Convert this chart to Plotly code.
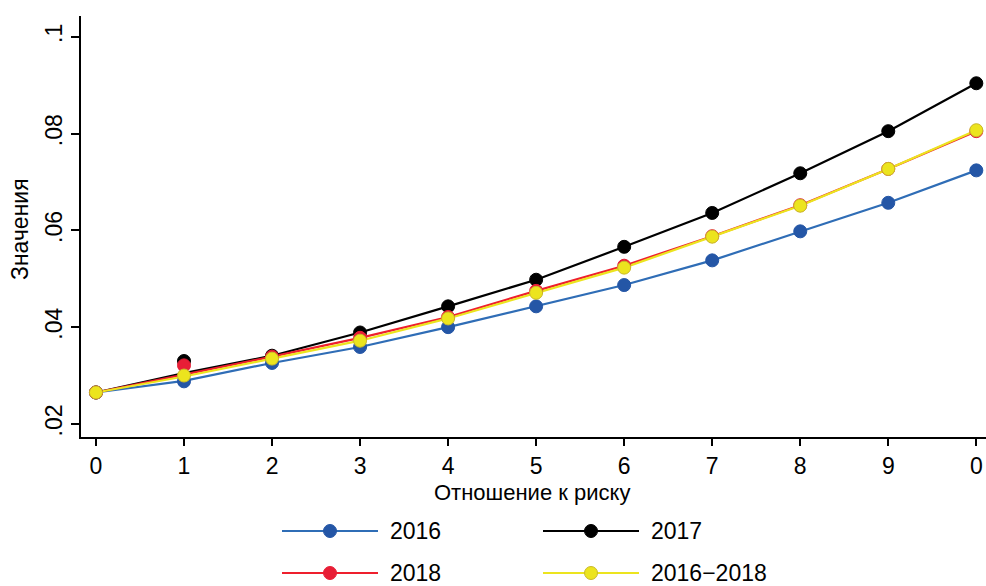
import plotly.graph_objects as go

# ---- data ----
x_vals = [0, 1, 2, 3, 4, 5, 6, 7, 8, 9, 10]
x_ticktext = ["0", "1", "2", "3", "4", "5", "6", "7", "8", "9", "0"]
y_tickvals = [0.02, 0.04, 0.06, 0.08, 0.10]
y_ticktext = [".02", ".04", ".06", ".08", ".1"]
x_title = "Отношение к риску"
y_title = "Значения"

series_names = ["2016", "2017", "2018", "2016\u22122018"]

# marker (point) values
pts_2016 = [0.0265, 0.0288, 0.0326, 0.0359, 0.0400, 0.0443, 0.0487, 0.0538, 0.0598, 0.0657, 0.0724]
pts_2017 = [0.0265, 0.0330, 0.0341, 0.0389, 0.0443, 0.0498, 0.0566, 0.0636, 0.0718, 0.0805, 0.0904]
pts_2018 = [0.0265, 0.0321, 0.0339, 0.0378, 0.0421, 0.0475, 0.0527, 0.0588, 0.0652, 0.0727, 0.0805]
pts_all = [0.0265, 0.0300, 0.0335, 0.0372, 0.0418, 0.0471, 0.0523, 0.0587, 0.0651, 0.0727, 0.0807]

# connecting-line values
ln_2016 = [0.0265, 0.0289, 0.0326, 0.0359, 0.0400, 0.0443, 0.0487, 0.0538, 0.0598, 0.0657, 0.0724]
ln_2017 = [0.0265, 0.0305, 0.0341, 0.0389, 0.0443, 0.0498, 0.0566, 0.0636, 0.0718, 0.0805, 0.0904]
ln_2018 = [0.0265, 0.0302, 0.0339, 0.0378, 0.0421, 0.0475, 0.0527, 0.0588, 0.0652, 0.0727, 0.0805]
ln_all = [0.0265, 0.0298, 0.0335, 0.0372, 0.0418, 0.0471, 0.0523, 0.0587, 0.0651, 0.0727, 0.0807]

line_colors = ["#2f6db6", "#000000", "#ee1f2d", "#ece41e"]
marker_colors = ["#2456a6", "#000000", "#e81e36", "#ece41e"]
marker_edges = ["#2456a6", "#000000", "#e81e36", "#c9b92a"]

lines = [ln_2016, ln_2017, ln_2018, ln_all]
points = [pts_2016, pts_2017, pts_2018, pts_all]

FONT = "Liberation Sans, Arial, Helvetica, sans-serif"
FS = 23

fig = go.Figure()
for name, ys, c in zip(series_names, lines, line_colors):
    fig.add_trace(go.Scatter(x=x_vals, y=ys, mode="lines", name=name,
                             line=dict(color=c, width=2.2), showlegend=False,
                             hoverinfo="skip"))
for name, ys, c, e in zip(series_names, points, marker_colors, marker_edges):
    fig.add_trace(go.Scatter(x=x_vals, y=ys, mode="markers", name=name,
                             marker=dict(color=c, size=13, line=dict(color=e, width=1)),
                             showlegend=False))

# ---- manual legend (long line samples like the original) ----
PL, PR, PT, PB = 81, 986, 16, 437
W, H = PR - PL, PB - PT

def px(xp):
    return (xp - PL) / W

def py(yp):
    return (PB - yp) / H

legend_pos = [(282, 531), (543, 531), (282, 573), (543, 573)]
shapes = []
annotations = []
for (lx, ly), name, lc, mc, me in zip(legend_pos, series_names, line_colors, marker_colors, marker_edges):
    shapes.append(dict(type="line", xref="paper", yref="paper",
                       x0=px(lx), x1=px(lx + 96), y0=py(ly), y1=py(ly),
                       line=dict(color=lc, width=2.2)))
    shapes.append(dict(type="circle", xref="paper", yref="paper",
                       xsizemode="pixel", ysizemode="pixel",
                       xanchor=px(lx + 48), yanchor=py(ly),
                       x0=-6.5, x1=6.5, y0=-6.5, y1=6.5,
                       fillcolor=mc, line=dict(color=me, width=1)))
    annotations.append(dict(xref="paper", yref="paper", x=px(lx + 106), y=py(ly),
                            text=name, showarrow=False, xanchor="left", yanchor="middle",
                            font=dict(family=FONT, size=FS, color="#000000")))

# axis titles placed like the original
annotations.append(dict(xref="paper", yref="paper", x=px(532), y=py(492),
                        text=x_title, showarrow=False, xanchor="center", yanchor="middle",
                        font=dict(family=FONT, size=22, color="#000000")))
annotations.append(dict(xref="paper", yref="paper", x=px(20), y=py(229),
                        text=y_title, showarrow=False, textangle=-90,
                        xanchor="center", yanchor="middle",
                        font=dict(family=FONT, size=FS, color="#000000")))

fig.update_layout(
    width=986, height=586,
    margin=dict(l=PL, r=986 - PR, t=PT, b=586 - PB),
    paper_bgcolor="white", plot_bgcolor="white",
    font=dict(family=FONT, size=FS, color="#000000"),
    shapes=shapes, annotations=annotations,
    xaxis=dict(range=[-0.17, 10.11], tickvals=x_vals, ticktext=x_ticktext,
               showline=True, linecolor="#000000", linewidth=2,
               ticks="outside", ticklen=7, tickwidth=1.5, tickcolor="#000000",
               showgrid=False, zeroline=False,
               tickfont=dict(family=FONT, size=FS)),
    yaxis=dict(range=[0.0173, 0.1043], tickvals=y_tickvals, ticktext=y_ticktext,
               tickangle=-90,
               showline=True, linecolor="#000000", linewidth=2,
               ticks="outside", ticklen=8, tickwidth=1.5, tickcolor="#000000",
               showgrid=False, zeroline=False,
               tickfont=dict(family=FONT, size=FS)),
)

fig.write_html("out.html", config={"displayModeBar": False},
               post_script="document.body.style.margin='0';document.body.style.padding='0';")
